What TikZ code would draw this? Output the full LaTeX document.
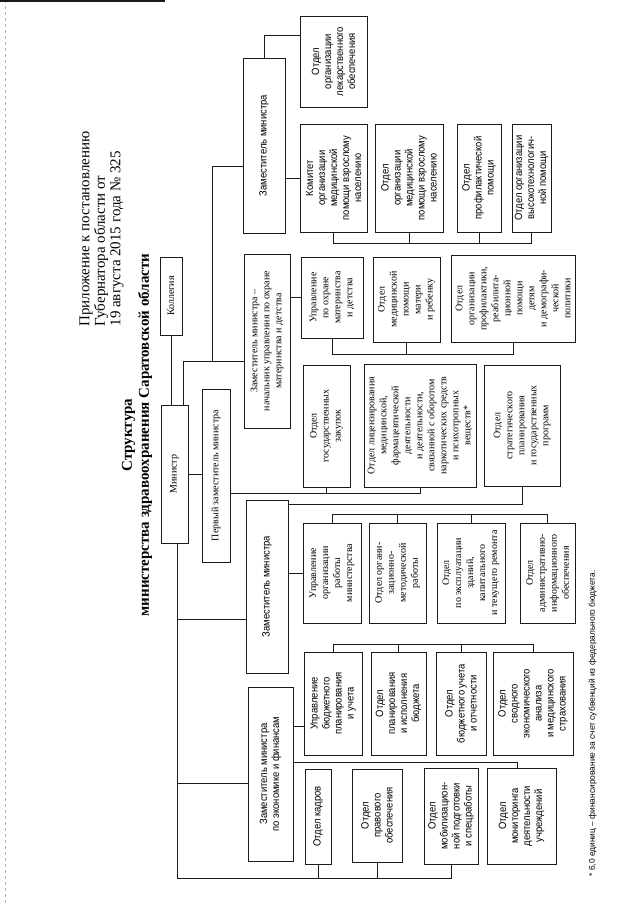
\documentclass[tikz,border=0pt]{standalone}
\usepackage{fontspec}
\setmainfont{Liberation Serif}
\setsansfont{Liberation Sans}
\newfontfamily\narrowsans[FakeStretch=0.9]{Liberation Sans}
\usetikzlibrary{calc}
\definecolor{ChartInk}{HTML}{1A1A1A}
\definecolor{ChartScan}{HTML}{B4B4B4}
\tikzset{
  link/.style={draw=ChartInk, line width=0.7pt},
  unit/.style={draw=ChartInk, line width=0.8pt, rotate=90, align=center, inner sep=1pt,
               font=\fontsize{10}{12}\selectfont},
  sunit/.style={unit, font=\narrowsans\fontsize{10.5}{12}\selectfont},
  caption/.style={rotate=90, align=left, font=\fontsize{15}{15.5}\selectfont},
}

\begin{document}
\begin{tikzpicture}[x=1pt, y=-1pt]
  \fill[white] (0,0) rectangle (640,905);
  \useasboundingbox (0,0) rectangle (640,905);
  \draw[ChartScan, dashed, line width=0.6pt] (5,0) -- (5,905);
  \draw[ChartInk, line width=1.6pt] (0,1) -- (165,1);

  \node[caption, anchor=north west] (appx) at (76,330)
    {Приложение к постановлению\\Губернатора области от\\19 августа 2015 года № 325};
  \node[caption, align=center, font=\bfseries\fontsize{15}{17}\selectfont] (head) at (137,435)
    {Структура\\министерства здравоохранения Саратовской области};

  \node[unit, minimum width=78pt, minimum height=22pt] (kollegiya) at (171,296) {Коллегия};
  \node[unit, minimum width=138pt, minimum height=27pt] (ministr) at (174.5,474) {Министр};
  \node[unit, minimum width=173pt, minimum height=28pt] (pervyzam) at (216,475.5) {Первый заместитель министра};
  \node[sunit, minimum width=175pt, minimum height=42pt] (zamtop) at (264,145.5) {Заместитель министра};
  \node[unit, minimum width=174pt, minimum height=46pt] (zamdet) at (267,341)
    {Заместитель министра –\\начальник управления по охране\\материнства и детства};
  \node[sunit, minimum width=173pt, minimum height=42pt] (zammid) at (267,586.5) {Заместитель министра};
  \node[sunit, minimum width=174pt, minimum height=45pt] (zamek) at (270.5,774)
    {Заместитель министра\\по экономике и финансам};

  \node[sunit, minimum width=91pt, minimum height=67pt] (otdlek) at (333.5,61.5)
    {Отдел\\организации\\лекарственного\\обеспечения};
  \node[sunit, minimum width=108pt, minimum height=67pt] (komitet) at (333.5,178)
    {Комитет\\организации\\медицинской\\помощи взрослому\\населению};
  \node[sunit, minimum width=108pt, minimum height=68pt] (otdvzr) at (409,178)
    {Отдел\\организации\\медицинской\\помощи взрослому\\населению};
  \node[sunit, minimum width=108pt, minimum height=44pt] (otdprof) at (479,178)
    {Отдел\\профилактической\\помощи};
  \node[sunit, minimum width=108pt, minimum height=39pt] (otdvys) at (531.5,178)
    {Отдел организации\\высокотехнологич-\\ной помощи};

  \node[unit, minimum width=81pt, minimum height=62pt] (upravdet) at (332,297.5)
    {Управление\\по охране\\материнства\\и детства};
  \node[unit, minimum width=85pt, minimum height=67pt] (otdmat) at (406.5,299.5)
    {Отдел\\медицинской\\помощи\\матери\\и ребенку};
  \node[unit, minimum width=87pt, minimum height=124pt] (otdreab) at (513,298.5)
    {Отдел\\организации\\профилактики,\\реабилита-\\ционной\\помощи\\детям\\и демографи-\\ческой\\политики};

  \node[unit, minimum width=122pt, minimum height=47pt] (otdzak) at (326.5,426)
    {Отдел\\государственных\\закупок};
  \node[unit, minimum width=123pt, minimum height=112pt] (otdlic) at (420,425.5)
    {Отдел лицензирования\\медицинской,\\фармацевтической\\деятельности\\и деятельности,\\связанной с оборотом\\наркотических средств\\и психотропных\\веществ*};
  \node[unit, minimum width=121pt, minimum height=76pt] (otdstrat) at (522,425.5)
    {Отдел\\стратегического\\планирования\\и государственных\\программ};

  \node[unit, minimum width=100pt, minimum height=58pt] (upravorg) at (332,573)
    {Управление\\организации\\работы\\министерства};
  \node[unit, minimum width=100pt, minimum height=57pt] (otdmet) at (397.5,573)
    {Отдел органи-\\зационно-\\методической\\работы};
  \node[unit, minimum width=100pt, minimum height=68pt] (otdexp) at (471,573)
    {Отдел\\по эксплуатации\\зданий,\\капитального\\и текущего ремонта};
  \node[unit, minimum width=100pt, minimum height=55pt] (otdadm) at (547.5,573)
    {Отдел\\административно-\\информационного\\обеспечения};

  \node[sunit, minimum width=103pt, minimum height=58pt] (upravbud) at (333,703.5)
    {Управление\\бюджетного\\планирования\\и учета};
  \node[sunit, minimum width=103pt, minimum height=55pt] (otdplan) at (398.5,703.5)
    {Отдел\\планирования\\и исполнения\\бюджета};
  \node[sunit, minimum width=103pt, minimum height=50pt] (otducht) at (461,703.5)
    {Отдел\\бюджетного учета\\и отчетности};
  \node[sunit, minimum width=103pt, minimum height=80pt] (otdsvod) at (533,703.5)
    {Отдел\\сводного\\экономического\\анализа\\и медицинского\\страхования};

  \node[sunit, minimum width=95pt, minimum height=26pt] (otdkadr) at (318,816.5) {Отдел кадров};
  \node[sunit, minimum width=93pt, minimum height=50pt] (otdprav) at (377,815.5)
    {Отдел\\правового\\обеспечения};
  \node[sunit, minimum width=96pt, minimum height=54pt] (otdmob) at (451,816)
    {Отдел\\мобилизацион-\\ной подготовки\\и спецработы};
  \node[sunit, minimum width=96pt, minimum height=69pt] (otdmon) at (521.5,816)
    {Отдел\\мониторинга\\деятельности\\учреждений};

  \node[rotate=90, anchor=north west, font=\sffamily\fontsize{8.4}{10}\selectfont] (fnote) at (585,880)
    {* 6,0 единиц – финансирование за счет субвенций из федерального бюджета.};

  \coordinate (jmz) at (183,361);
  \coordinate (jtop) at (212,166);
  \coordinate (jlek) at (0,35);
  \coordinate (jbot) at (177,878);
  \coordinate (jmid) at (177,619);
  \coordinate (jek) at (177,783);
  \coordinate (bkom) at (0,243);
  \coordinate (bdet) at (0,354);
  \coordinate (bperv) at (0,493);
  \coordinate (bstrat) at (0,504);
  \coordinate (bmid) at (0,514);
  \coordinate (bbud) at (0,644);
  \coordinate (bek) at (0,726);
  \coordinate (bmon) at (517,762);

  \draw[link] (kollegiya.west) -- (kollegiya.west |- ministr.east);
  \draw[link] (jmz |- ministr.east) -- (jmz) -- (jmz -| zamdet.north);
  \draw[link] (jtop -| zamtop.north) -- (jtop) -- (jtop |- jmz);
  \draw[link] (ministr.south) -- (ministr.south -| pervyzam.north);
  \draw[link] (jbot |- ministr.west) -- (jbot) -| (otdmob.west);
  \draw[link] (jmid) -- (jmid -| zammid.north);
  \draw[link] (jek) -- (jek -| zamek.north);
  \draw[link] (otdkadr.west) -- (otdkadr.west |- jbot);
  \draw[link] (otdprav.west) -- (otdprav.west |- jbot);

  \draw[link] (zamtop.east) |- (jlek -| otdlek.north);
  \draw[link] (komitet.north) -- (komitet.north -| zamtop.south);
  \draw[link] (komitet.west) -- (komitet.west |- bkom) -| (otdvys.west);
  \draw[link] (otdvzr.west) -- (otdvzr.west |- bkom);
  \draw[link] (otdprof.west) -- (otdprof.west |- bkom);

  \draw[link] (upravdet.north) -- (upravdet.north -| zamdet.south);
  \draw[link] (upravdet.west) -- (upravdet.west |- bdet) -| (otdreab.west);
  \draw[link] (otdmat.west) -- (otdmat.west |- bdet);

  \draw[link] (pervyzam.south |- bperv) -| (otdlic.west);
  \draw[link] (otdzak.west) -- (otdzak.west |- bperv);
  \draw[link] (zammid.south |- bstrat) -| (otdstrat.west);

  \draw[link] (upravorg.north) -- (upravorg.north -| zammid.south);
  \draw[link] (upravorg.east) -- (upravorg.east |- bmid) -| (otdadm.east);
  \draw[link] (otdmet.east) -- (otdmet.east |- bmid);
  \draw[link] (otdexp.east) -- (otdexp.east |- bmid);

  \draw[link] (zamek.south |- bek) -- (bek -| upravbud.north);
  \draw[link] (upravbud.east) -- (upravbud.east |- bbud) -| (otdsvod.east);
  \draw[link] (otdplan.east) -- (otdplan.east |- bbud);
  \draw[link] (otducht.east) -- (otducht.east |- bbud);
  \draw[link] (zamek.south |- bmon) -- (bmon) -- (bmon |- otdmon.east);
\end{tikzpicture}
\end{document}
